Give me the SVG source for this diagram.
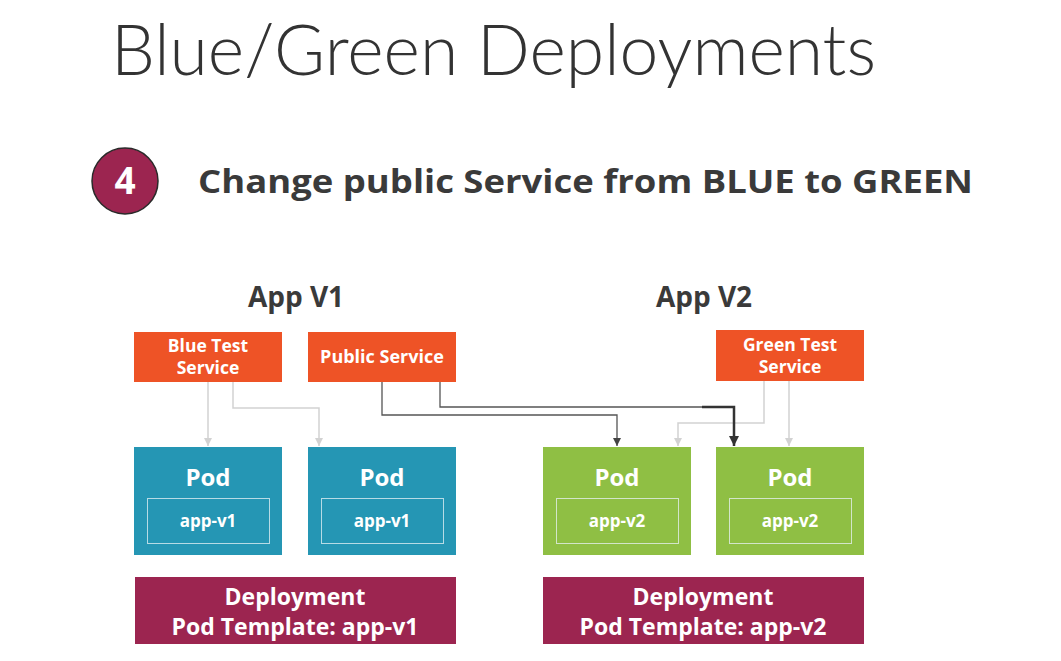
<svg xmlns="http://www.w3.org/2000/svg" width="1061" height="661" viewBox="0 0 1061 661">
  <defs>
    <style>
      .title { font-family: Lato, "Liberation Sans", sans-serif; font-weight: 300; fill: #333; }
      .head { font-family: "Open Sans", "Liberation Sans", sans-serif; font-weight: 700; fill: #3a3a3a; }
      .w { font-family: "Open Sans", "Liberation Sans", sans-serif; font-weight: 700; fill: #fff; text-anchor: middle; }
      .svc { fill: #ee5326; }
      .bpod { fill: #2596b4; }
      .gpod { fill: #8fbf44; }
      .inner { fill: none; stroke: #e8f2f5; stroke-opacity: 0.75; stroke-width: 1; }
      .dep { fill: #9c2550; }
      .lt { fill: none; stroke: #d2d2d2; stroke-width: 1.5; }
      .dk { fill: none; stroke: #555; stroke-width: 1.3; }
      .bold { fill: none; stroke: #333; stroke-width: 2.5; }
    </style>
    <marker id="aLt" viewBox="0 0 10 10" refX="5" refY="10" markerWidth="8" markerHeight="8" markerUnits="userSpaceOnUse">
      <path d="M0,0 L10,0 L5,10 Z" fill="#d2d2d2"/>
    </marker>
    <marker id="aDk" viewBox="0 0 10 10" refX="5" refY="10" markerWidth="8" markerHeight="8" markerUnits="userSpaceOnUse">
      <path d="M0,0 L10,0 L5,10 Z" fill="#444"/>
    </marker>
    <marker id="aBd" viewBox="0 0 10 10" refX="5" refY="10" markerWidth="10" markerHeight="10" markerUnits="userSpaceOnUse">
      <path d="M0,0 L10,0 L5,10 Z" fill="#333"/>
    </marker>
  </defs>

  <rect width="1061" height="661" fill="#fff"/>

  <!-- Title and step heading -->
  <text class="title" x="111" y="75" font-size="70" textLength="765" lengthAdjust="spacingAndGlyphs">Blue/Green Deployments</text>
  <g id="step">
    <circle cx="125" cy="181" r="33" fill="#9c2550" stroke="#2a2a2a" stroke-width="1.5"/>
    <text class="w" x="125" y="194" font-size="37">4</text>
  </g>
  <text class="head" x="198" y="193" font-size="33" textLength="775" lengthAdjust="spacingAndGlyphs">Change public Service from BLUE to GREEN</text>

  <text class="head" x="296" y="307" font-size="28" text-anchor="middle">App V1</text>
  <text class="head" x="704" y="307" font-size="28" text-anchor="middle">App V2</text>

  <!-- Connectors -->
  <g id="connectors">
    <path class="lt" d="M208,382 V446" marker-end="url(#aLt)"/>
    <path class="lt" d="M233,382 V408 H319 V446" marker-end="url(#aLt)"/>
    <path class="lt" d="M764,381 V423 H678 V446" marker-end="url(#aLt)"/>
    <path class="lt" d="M789,381 V446" marker-end="url(#aLt)"/>
    <path class="dk" d="M382,382 V415 H617 V446" marker-end="url(#aDk)"/>
    <path class="dk" d="M440,382 V407 H703"/>
    <path class="bold" d="M702,407 H734 V446" marker-end="url(#aBd)"/>
  </g>

  <!-- Services -->
  <g id="blue-test-service">
    <rect class="svc" x="134" y="332" width="148" height="50"/>
    <text class="w" x="208" y="352" font-size="17.5">Blue Test</text>
    <text class="w" x="208" y="374" font-size="17.5">Service</text>
  </g>
  <g id="public-service">
    <rect class="svc" x="308" y="332" width="148" height="50"/>
    <text class="w" x="382" y="363" font-size="18">Public Service</text>
  </g>
  <g id="green-test-service">
    <rect class="svc" x="716" y="330" width="148" height="51"/>
    <text class="w" x="790" y="351" font-size="17.5">Green Test</text>
    <text class="w" x="790" y="373" font-size="17.5">Service</text>
  </g>

  <!-- Pods -->
  <g id="pod-v1-a">
    <rect class="bpod" x="134" y="447" width="148" height="108"/>
    <text class="w" x="208" y="486" font-size="24">Pod</text>
    <rect class="inner" x="147.5" y="498.5" width="122" height="45"/>
    <text class="w" x="208" y="527" font-size="17">app-v1</text>
  </g>
  <g id="pod-v1-b">
    <rect class="bpod" x="308" y="447" width="148" height="108"/>
    <text class="w" x="382" y="486" font-size="24">Pod</text>
    <rect class="inner" x="321.5" y="498.5" width="122" height="45"/>
    <text class="w" x="382" y="527" font-size="17">app-v1</text>
  </g>
  <g id="pod-v2-a">
    <rect class="gpod" x="543" y="447" width="148" height="108"/>
    <text class="w" x="617" y="486" font-size="24">Pod</text>
    <rect class="inner" x="556.5" y="498.5" width="122" height="45"/>
    <text class="w" x="617" y="527" font-size="17">app-v2</text>
  </g>
  <g id="pod-v2-b">
    <rect class="gpod" x="716" y="447" width="148" height="108"/>
    <text class="w" x="790" y="486" font-size="24">Pod</text>
    <rect class="inner" x="729.5" y="498.5" width="122" height="45"/>
    <text class="w" x="790" y="527" font-size="17">app-v2</text>
  </g>

  <!-- Deployments -->
  <g id="deployment-v1">
    <rect class="dep" x="135" y="577" width="321" height="67"/>
    <text class="w" x="295" y="605" font-size="23">Deployment</text>
    <text class="w" x="295" y="635" font-size="23">Pod Template: app-v1</text>
  </g>
  <g id="deployment-v2">
    <rect class="dep" x="543" y="577" width="321" height="67"/>
    <text class="w" x="703" y="605" font-size="23">Deployment</text>
    <text class="w" x="703" y="635" font-size="23">Pod Template: app-v2</text>
  </g>
</svg>
